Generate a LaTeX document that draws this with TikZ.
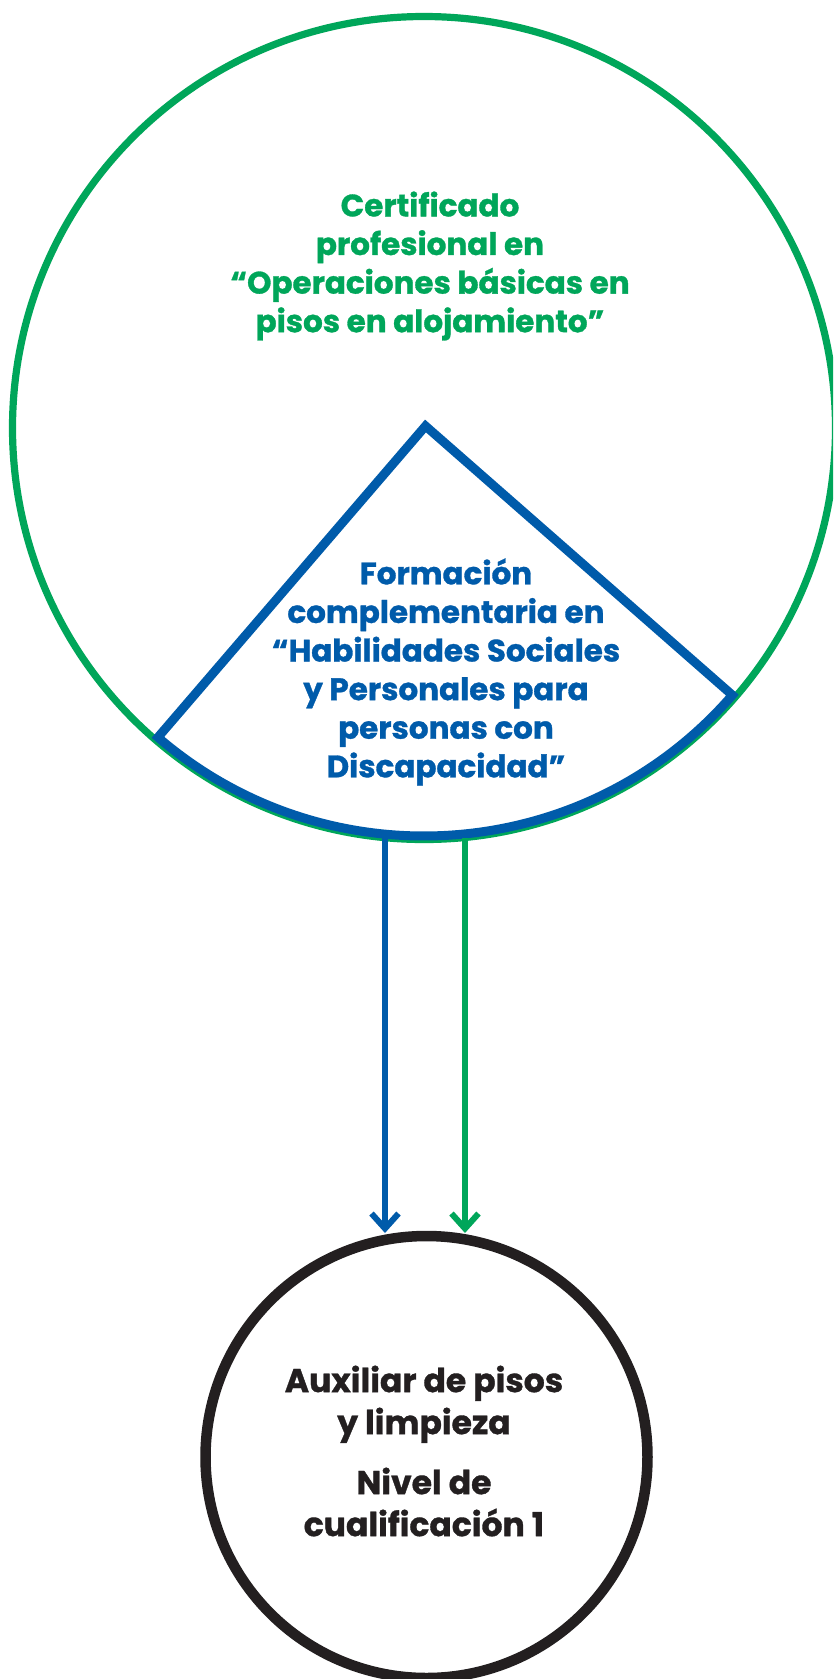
\documentclass[tikz,border=0pt]{standalone}
\usepackage{fontspec}
\setmainfont{Poppins}[BoldFeatures={FakeBold=1}]
\usetikzlibrary{arrows.meta,calc}
\definecolor{cgreen}{RGB}{0,166,90}
\definecolor{cblue}{RGB}{0,91,170}
\definecolor{cblack}{RGB}{35,31,32}
\begin{document}
\begin{tikzpicture}[x=1pt,y=-1pt,
  greenring/.style={circle, draw=cgreen, line width=7.2pt, inner sep=0pt, minimum size=823pt},
  blackring/.style={circle, draw=cblack, line width=10.5pt, inner sep=0pt, minimum size=442pt},
  sector/.style={draw=cblue, line width=9pt, line join=miter},
  arrowline/.style={line width=6pt, -{Straight Barb[length=15pt,width=27pt]}},
  label/.style={align=center, font=\bfseries\fontsize{31}{38.6}\selectfont}
]
\useasboundingbox (0,0) rectangle (833,1679);
\fill[white] (0,0) rectangle (833,1679);
\clip (0,0) rectangle (833,1679);
% big circle
\node[greenring] (big) at (424,428) {};
% sector
\coordinate (apex) at (425.5,426);
\coordinate (ctr) at (424,428);
\draw[sector] (apex) -- ($(ctr)+(229.3:408pt)$) arc[start angle=229.3, end angle=319.1, radius=408pt] -- cycle;
% small circle
\node[blackring] (small) at (426.5,1457) {};
% arrows
\coordinate (bs) at (385,838);
\coordinate (be) at (385,1233);
\coordinate (gs) at (465,838);
\coordinate (ge) at (465,1233);
\draw[arrowline, draw=cblue] (bs) -- (be);
\draw[arrowline, draw=cgreen] (gs) -- (ge);
% texts
\node[label, text=cgreen] (cert) at (430,266) {Certificado\\profesional en\\“Operaciones básicas en\\pisos en alojamiento”};
\node[label, text=cblue] (form) at (446,672) {Formación\\complementaria en\\“Habilidades Sociales\\y Personales para\\personas con\\Discapacidad”};
\node[label, text=cblack, font=\bfseries\fontsize{33}{42}\selectfont] (aux) at (424,1451) {Auxiliar de pisos\\y limpieza\\[18pt]Nivel de\\cualificación 1};
\end{tikzpicture}
\end{document}
